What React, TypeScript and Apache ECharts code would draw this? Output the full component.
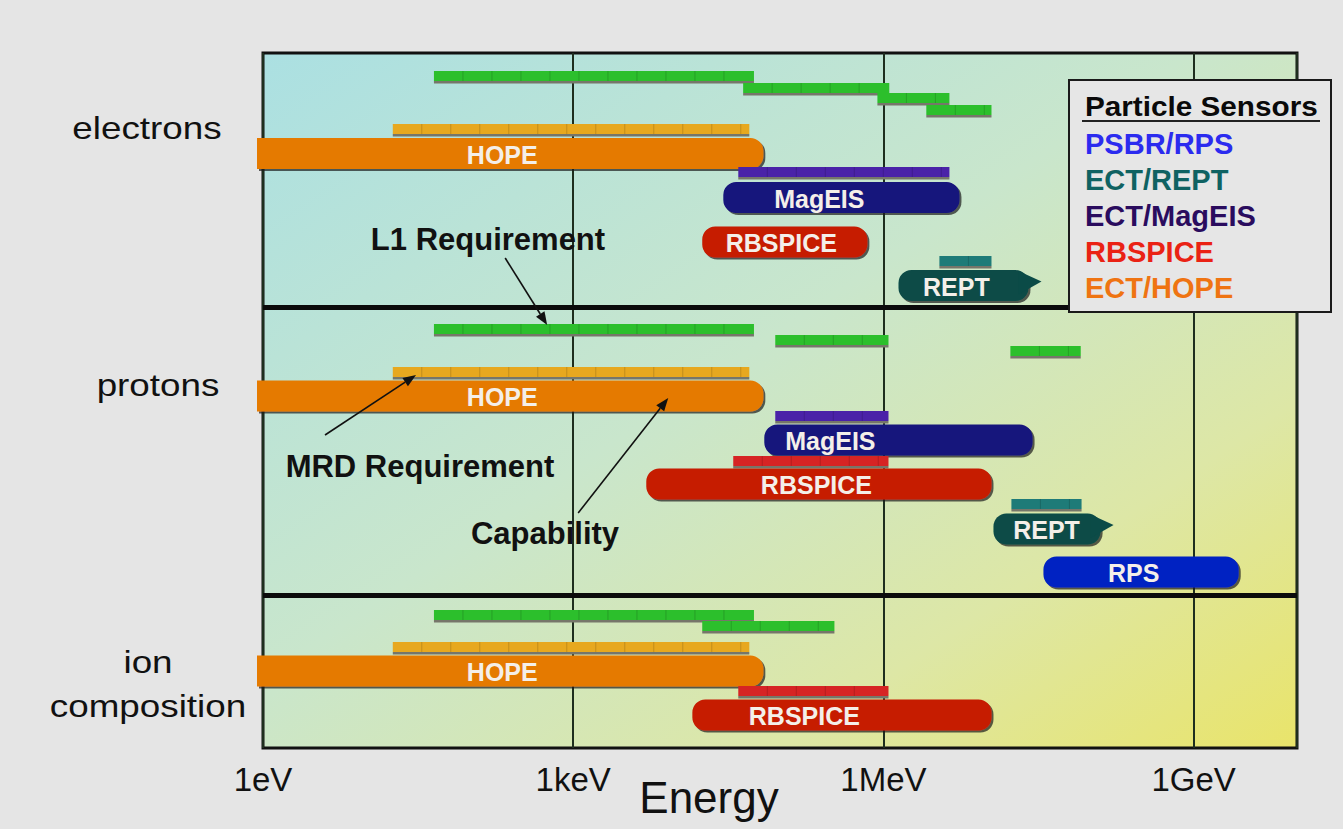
import React, { useEffect, useRef } from 'react';
import * as echarts from 'echarts';

const FONT = '"Liberation Sans", Arial, Helvetica, sans-serif';

// ---------- data ----------
const SECTIONS = ['electrons', 'protons', 'ion\ncomposition'];
const TICK_LABELS: Record<number, string> = { 0: '1eV', 3: '1keV', 6: '1MeV', 9: '1GeV' };
const SENSORS = ['PSBR/RPS', 'ECT/REPT', 'ECT/MagEIS', 'RBSPICE', 'ECT/HOPE'];
const LEGEND_COLORS = ['#2b2bef', '#0f6262', '#2a0c5e', '#ea2214', '#ef7412'];
const ANNOTATIONS = ['L1 Requirement', 'MRD Requirement', 'Capability'];

// lanes: vertical track positions (0 = top of plot), energies in eV
const DIVIDER_LANES = [254, 542];

// L1 requirement: [startEv, endEv, lane]
const l1Electrons = [[45, 5.6e4, 24], [4.4e4, 1.14e6, 36], [8.75e5, 4.35e6, 46], [2.6e6, 1.11e7, 58]];
const l1Protons = [[45, 5.6e4, 277], [9.0e4, 1.12e6, 288], [1.69e7, 8.1e7, 299]];
const l1Ions = [[45, 5.6e4, 563], [1.77e4, 3.36e5, 574]];

// MRD requirement: [startEv, endEv, lane]
const hopeMrd = [[18, 5.05e4, 77], [18, 5.05e4, 320], [18, 5.05e4, 595]];
const magEisMrd = [[3.95e4, 4.35e6, 120], [9.0e4, 1.12e6, 364]];
const rbspiceMrd = [[3.53e4, 1.12e6, 409], [3.95e4, 1.12e6, 639]];
const reptMrd = [[3.48e6, 1.11e7, 209], [1.73e7, 8.25e7, 452]];
const rpsMrd: number[][] = [];

// Capability: [startEv, endEv, lane, labelEv]
const hopeCap = [[0.875, 6.9e4, 100.5, 206], [0.875, 6.9e4, 343, 206], [0.875, 6.9e4, 618, 206]];
const magEisCap = [[2.83e4, 5.44e6, 144.5, 2.4e5], [7.05e4, 2.77e7, 387, 3.07e5]];
const rbspiceCap = [[1.77e4, 7.0e5, 189, 1.03e5], [5.09e3, 1.11e7, 431, 2.25e5], [1.42e4, 1.11e7, 662, 1.72e5]];
const reptCap = [[1.4e6, 2.53e7, 232.5, 5.08e6], [1.16e7, 1.26e8, 476, 3.78e7]];
const rpsCap = [[3.53e7, 2.73e9, 519, 2.63e8]];

// annotation arrows: [energy, lane] from -> to
const ARROWS = [
  { from: [220, 205], to: [560, 272] },
  { from: [3.98, 382], to: [30.2, 322] },
  { from: [1117, 460], to: [8300, 345] },
];

// ---------- helpers ----------
function reqShape(x0: number, x1: number, yc: number, color: string) {
  const children: any[] = [
    { type: 'rect', shape: { x: x0, y: yc - 6, width: x1 - x0, height: 10 }, style: { fill: color } },
    { type: 'rect', shape: { x: x0, y: yc + 4, width: x1 - x0, height: 2.5 }, style: { fill: '#76766a' } },
  ];
  for (let sx = x0 + 29; sx < x1 - 6; sx += 29) {
    children.push({
      type: 'line',
      shape: { x1: sx, y1: yc - 6, x2: sx, y2: yc + 4 },
      style: { stroke: 'rgba(0,0,0,0.16)', lineWidth: 1 },
    });
  }
  return { type: 'group', children };
}

const SHADOW = { shadowColor: 'rgba(30,30,30,0.7)', shadowOffsetX: 2, shadowOffsetY: 2, shadowBlur: 1 };

const sensorDefs = [
  { name: 'ECT/HOPE', label: 'HOPE', fill: '#e57a06', req: '#e7a81f', mrd: hopeMrd, cap: hopeCap, pointer: false },
  { name: 'ECT/MagEIS', label: 'MagEIS', fill: '#16127c', req: '#4a22a8', mrd: magEisMrd, cap: magEisCap, pointer: false },
  { name: 'RBSPICE', label: 'RBSPICE', fill: '#c61b02', req: '#d62424', mrd: rbspiceMrd, cap: rbspiceCap, pointer: false },
  { name: 'ECT/REPT', label: 'REPT', fill: '#0b4b47', req: '#1e7b78', mrd: reptMrd, cap: reptCap, pointer: true },
  { name: 'PSBR/RPS', label: 'RPS', fill: '#0424c2', req: '#0424c2', mrd: rpsMrd, cap: rpsCap, pointer: false },
];

function buildOption() {
  const l1Data = [...l1Electrons, ...l1Protons, ...l1Ions];

  const l1Series: any = {
    type: 'custom',
    name: 'L1 Requirement',
    encode: { x: [0, 1], y: 2 },
    data: l1Data,
    z: 3,
    renderItem: (_p: any, api: any) => {
      const a = api.coord([api.value(0), api.value(2)]);
      const b = api.coord([api.value(1), api.value(2)]);
      return reqShape(a[0], b[0], a[1], '#2cbf2c');
    },
    markLine: {
      silent: true,
      symbol: ['none', 'none'],
      label: { show: false },
      lineStyle: { color: '#0b0b0b', width: 5, type: 'solid' },
      data: DIVIDER_LANES.map((v) => ({ yAxis: v })),
    },
  };

  const sensorSeries = sensorDefs.map((def) => {
    const data = [
      ...def.mrd.map((d) => [d[0], d[1], d[2], d[0], 0]),
      ...def.cap.map((d) => [d[0], d[1], d[2], d[3], 1]),
    ];
    const s: any = {
      type: 'custom',
      name: def.name,
      encode: { x: [0, 1], y: 2 },
      data,
      z: 3,
      renderItem: (_p: any, api: any) => {
        const kind = api.value(4);
        const a = api.coord([api.value(0), api.value(2)]);
        const b = api.coord([api.value(1), api.value(2)]);
        const x0 = a[0];
        const x1 = b[0];
        const yc = a[1];
        if (kind === 0) return reqShape(x0, x1, yc, def.req);
        const h = 31;
        const rl = api.value(0) < 1 ? 0 : 13;
        const children: any[] = [
          {
            type: 'rect',
            shape: { x: x0, y: yc - h / 2, width: x1 - x0, height: h, r: [rl, 13, 13, rl] },
            style: { fill: def.fill, ...SHADOW },
          },
        ];
        if (def.pointer) {
          children.push({
            type: 'polygon',
            shape: { points: [[x1 - 10, yc - h / 2 + 1], [x1 + 13, yc - 4], [x1 - 10, yc + 9]] },
            style: { fill: def.fill },
          });
        }
        const lx = api.coord([api.value(3), api.value(2)])[0];
        children.push({
          type: 'text',
          x: lx,
          y: yc + 1,
          style: {
            text: def.label,
            fill: '#f4efe9',
            fontSize: 25,
            fontWeight: 'bold',
            fontFamily: FONT,
            align: 'center',
            verticalAlign: 'middle',
          },
        });
        return { type: 'group', children };
      },
    };
    return s;
  });

  // annotation arrows drawn through the axes (line + arrow head)
  const arrowSeries: any = {
    type: 'custom',
    name: 'annotations',
    encode: { x: [0, 2], y: [1, 3] },
    data: ARROWS.map((a) => [a.from[0], a.from[1], a.to[0], a.to[1]]),
    z: 8,
    silent: true,
    renderItem: (_p: any, api: any) => {
      const p = api.coord([api.value(0), api.value(1)]);
      const q = api.coord([api.value(2), api.value(3)]);
      const dx = q[0] - p[0];
      const dy = q[1] - p[1];
      const len = Math.sqrt(dx * dx + dy * dy);
      const ux = dx / len;
      const uy = dy / len;
      const hl = 13;
      const hw = 5;
      const bx = q[0] - ux * hl;
      const by = q[1] - uy * hl;
      return {
        type: 'group',
        children: [
          { type: 'line', shape: { x1: p[0], y1: p[1], x2: bx, y2: by }, style: { stroke: '#111', lineWidth: 1.6 } },
          {
            type: 'polygon',
            shape: { points: [[q[0], q[1]], [bx - uy * hw, by + ux * hw], [bx + uy * hw, by - ux * hw]] },
            style: { fill: '#111' },
          },
        ],
      };
    },
  };

  const gradient = new echarts.graphic.LinearGradient(0, 0, 1, 1, [
    { offset: 0, color: '#abe0e2' },
    { offset: 0.45, color: '#c9e6cc' },
    { offset: 0.75, color: '#dde7a6' },
    { offset: 1, color: '#e9e46a' },
  ]);

  const textBase = { fontFamily: FONT, fill: '#111', align: 'center', verticalAlign: 'middle' };

  return {
    animation: false,
    backgroundColor: '#e5e5e5',
    grid: {
      left: 263,
      right: 46,
      top: 53,
      bottom: 81,
      show: true,
      backgroundColor: gradient,
      borderColor: '#111',
      borderWidth: 3,
    },
    xAxis: {
      type: 'log',
      logBase: 1000,
      min: 1,
      max: 1e10,
      axisLine: { show: false },
      axisTick: { show: false },
      splitLine: { show: true, lineStyle: { color: '#1e2e1e', width: 2 } },
      axisLabel: {
        fontFamily: FONT,
        fontSize: 33,
        color: '#111',
        margin: 15,
        showMaxLabel: false,
        formatter: (v: number) => TICK_LABELS[Math.round(Math.log10(v))] ?? '',
      },
    },
    yAxis: { type: 'value', min: 0, max: 695, inverse: true, show: false },
    legend: {
      orient: 'vertical',
      left: 1070,
      top: 129,
      padding: [0, 0, 0, 9],
      itemGap: 7,
      itemWidth: 1,
      itemHeight: 28,
      icon: 'rect',
      itemStyle: { opacity: 0 },
      selectedMode: false,
      z: 20,
      textStyle: { fontFamily: FONT, fontSize: 29, fontWeight: 'bold' },
      data: SENSORS.map((n, i) => ({ name: n, textStyle: { color: LEGEND_COLORS[i] } })),
    },
    graphic: [
      { type: 'text', x: 147, y: 128, scaleX: 1.15, style: { ...textBase, text: SECTIONS[0], fontSize: 32 } },
      { type: 'text', x: 158, y: 385, scaleX: 1.15, style: { ...textBase, text: SECTIONS[1], fontSize: 32 } },
      { type: 'text', x: 148, y: 684, scaleX: 1.15, style: { ...textBase, text: SECTIONS[2], fontSize: 32, lineHeight: 44 } },
      { type: 'text', x: 709, y: 797, style: { ...textBase, text: 'Energy', fontSize: 44 } },
      { type: 'text', x: 488, y: 239, z: 10, style: { ...textBase, text: ANNOTATIONS[0], fontSize: 31, fontWeight: 'bold' } },
      { type: 'text', x: 420, y: 466, z: 10, style: { ...textBase, text: ANNOTATIONS[1], fontSize: 31, fontWeight: 'bold' } },
      { type: 'text', x: 545, y: 533, z: 10, style: { ...textBase, text: ANNOTATIONS[2], fontSize: 31, fontWeight: 'bold' } },
      {
        type: 'rect',
        z: 15,
        shape: { x: 1069, y: 80, width: 262, height: 232 },
        style: { fill: '#e6e6e6', stroke: '#1a1a1a', lineWidth: 2 },
      },
      {
        type: 'text',
        z: 16,
        x: 1085,
        y: 106,
        scaleX: 1.1,
        style: { text: 'Particle Sensors', fontFamily: FONT, fontSize: 27, fontWeight: 'bold', fill: '#0a0a0a', align: 'left', verticalAlign: 'middle' },
      },
      {
        type: 'line',
        z: 16,
        shape: { x1: 1082, y1: 121, x2: 1320, y2: 121 },
        style: { stroke: '#222', lineWidth: 2 },
      },
    ],
    series: [l1Series, ...sensorSeries, arrowSeries],
  };
}

export default function App() {
  const ref = useRef<HTMLDivElement>(null);
  useEffect(() => {
    if (!ref.current) return;
    const chart = echarts.init(ref.current, undefined, { renderer: 'svg' });
    chart.setOption(buildOption() as any);
    return () => chart.dispose();
  }, []);
  return <div ref={ref} style={{ position: 'absolute', left: 0, top: 0, width: 1343, height: 829 }} />;
}
